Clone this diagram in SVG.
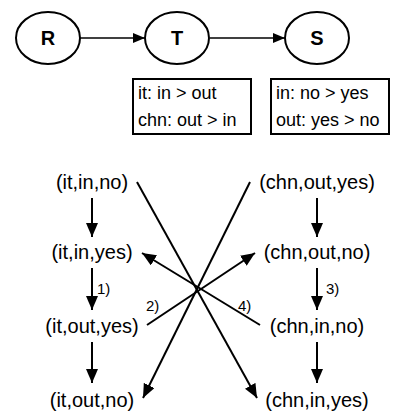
<svg xmlns="http://www.w3.org/2000/svg" width="395" height="419" viewBox="0 0 395 419">
<defs>
<style>
.node{fill:#fff;stroke:#000;stroke-width:2}
.lbl{font-family:"Liberation Sans",Arial,sans-serif;font-size:20px;font-weight:bold;text-anchor:middle}
.box{fill:#fff;stroke:#000;stroke-width:2}
.bt{font-family:"Liberation Sans",Arial,sans-serif;font-size:18px}
.st{font-family:"Liberation Sans",Arial,sans-serif;font-size:20px;text-anchor:middle}
.num{font-family:"Liberation Sans",Arial,sans-serif;font-size:15px}
.e{fill:none;stroke:#000;stroke-width:2}
.t{fill:none;stroke:#000;stroke-width:1.5}
</style>
<marker id="ah" markerUnits="userSpaceOnUse" markerWidth="14" markerHeight="12" refX="14" refY="6" orient="auto">
<path d="M0,0 L14,6 L0,12 z" fill="#000"/>
</marker>
<marker id="ahs" markerUnits="userSpaceOnUse" markerWidth="12" markerHeight="10" refX="12" refY="5" orient="auto">
<path d="M0,0 L12,5 L0,10 z" fill="#000"/>
</marker>
</defs>
<g id="connectors">
<line class="t" x1="80" y1="38" x2="145" y2="38" marker-end="url(#ahs)"/>
<line class="t" x1="210" y1="38" x2="285" y2="38" marker-end="url(#ahs)"/>
<line class="e" x1="92" y1="198" x2="92" y2="237" marker-end="url(#ah)"/>
<line class="e" x1="92" y1="268" x2="92" y2="310" marker-end="url(#ah)"/>
<line class="e" x1="92" y1="342" x2="92" y2="383" marker-end="url(#ah)"/>
<line class="e" x1="317" y1="198" x2="317" y2="237" marker-end="url(#ah)"/>
<line class="e" x1="317" y1="268" x2="317" y2="310" marker-end="url(#ah)"/>
<line class="e" x1="317" y1="342" x2="317" y2="383" marker-end="url(#ah)"/>
<line class="e" x1="137" y1="182" x2="257" y2="398" marker-end="url(#ah)"/>
<line class="e" x1="250" y1="182" x2="143" y2="398" marker-end="url(#ah)"/>
<line class="e" x1="147" y1="325" x2="255" y2="253" marker-end="url(#ah)"/>
<line class="e" x1="260" y1="325" x2="142" y2="253" marker-end="url(#ah)"/>
<text class="num" x="97" y="294">1)</text>
<text class="num" x="146" y="311">2)</text>
<text class="num" x="326" y="294">3)</text>
<text class="num" x="238" y="311">4)</text>
</g>
<g id="R"><ellipse class="node" cx="48" cy="38" rx="32" ry="26"/><text class="lbl" x="48" y="45">R</text></g>
<g id="T"><ellipse class="node" cx="177" cy="38" rx="32" ry="26"/><text class="lbl" x="177" y="45">T</text></g>
<g id="S"><ellipse class="node" cx="317" cy="38" rx="32" ry="26"/><text class="lbl" x="317" y="45">S</text></g>
<g id="boxT"><rect class="box" x="133" y="79" width="118" height="55"/><text class="bt" x="138" y="99">it: in &gt; out</text><text class="bt" x="138" y="126">chn: out &gt; in</text></g>
<g id="boxS"><rect class="box" x="271" y="79" width="118" height="55"/><text class="bt" x="276" y="99">in: no &gt; yes</text><text class="bt" x="276" y="126">out: yes &gt; no</text></g>
<g id="it_in_no"><text class="st" x="92" y="189">(it,in,no)</text></g>
<g id="it_in_yes"><text class="st" x="92" y="259">(it,in,yes)</text></g>
<g id="it_out_yes"><text class="st" x="92" y="333">(it,out,yes)</text></g>
<g id="it_out_no"><text class="st" x="92" y="407">(it,out,no)</text></g>
<g id="chn_out_yes"><text class="st" x="317" y="189">(chn,out,yes)</text></g>
<g id="chn_out_no"><text class="st" x="317" y="259">(chn,out,no)</text></g>
<g id="chn_in_no"><text class="st" x="317" y="333">(chn,in,no)</text></g>
<g id="chn_in_yes"><text class="st" x="317" y="407">(chn,in,yes)</text></g>
</svg>
